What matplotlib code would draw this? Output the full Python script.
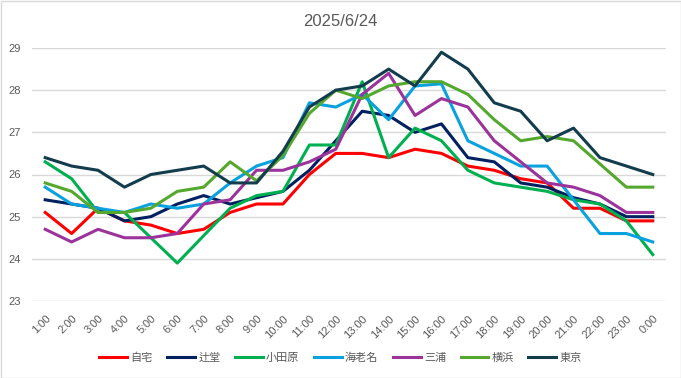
import matplotlib
matplotlib.use("Agg")
import matplotlib.pyplot as plt
from matplotlib.patches import Rectangle

plt.rcParams['font.family'] = ['Liberation Sans', 'Noto Sans CJK JP', 'DejaVu Sans']

hours = ["1:00", "2:00", "3:00", "4:00", "5:00", "6:00", "7:00", "8:00", "9:00", "10:00",
         "11:00", "12:00", "13:00", "14:00", "15:00", "16:00", "17:00", "18:00", "19:00",
         "20:00", "21:00", "22:00", "23:00", "0:00"]

jitaku = [25.1, 24.6, 25.2, 24.9, 24.8, 24.6, 24.7, 25.1, 25.3, 25.3, 26.0, 26.5, 26.5, 26.4,
          26.6, 26.5, 26.2, 26.1, 25.9, 25.8, 25.2, 25.2, 24.9, 24.9]
tsujido = [25.4, 25.3, 25.2, 24.9, 25.0, 25.3, 25.5, 25.3, 25.45, 25.6, 26.1, 26.8, 27.5, 27.4,
           27.0, 27.2, 26.4, 26.3, 25.8, 25.7, 25.45, 25.3, 25.0, 25.0]
odawara = [26.3, 25.9, 25.1, 25.1, 24.5, 23.9, 24.55, 25.2, 25.5, 25.6, 26.7, 26.7, 28.2, 26.4,
           27.1, 26.8, 26.1, 25.8, 25.7, 25.6, 25.4, 25.3, 24.9, 24.1]
ebina = [25.7, 25.3, 25.2, 25.1, 25.3, 25.2, 25.3, 25.8, 26.2, 26.4, 27.7, 27.6, 27.9, 27.3,
         28.1, 28.15, 26.8, 26.5, 26.2, 26.2, 25.4, 24.6, 24.6, 24.4]
miura = [24.7, 24.4, 24.7, 24.5, 24.5, 24.6, 25.3, 25.4, 26.1, 26.1, 26.3, 26.6, 27.9, 28.4,
         27.4, 27.8, 27.6, 26.8, 26.3, 25.8, 25.7, 25.5, 25.1, 25.1]
yokohama = [25.8, 25.6, 25.1, 25.1, 25.2, 25.6, 25.7, 26.3, 25.85, 26.45, 27.45, 28.0, 27.8, 28.1,
            28.2, 28.2, 27.9, 27.3, 26.8, 26.9, 26.8, 26.25, 25.7, 25.7]
tokyo = [26.4, 26.2, 26.1, 25.7, 26.0, 26.1, 26.2, 25.8, 25.8, 26.55, 27.6, 28.0, 28.1, 28.5,
         28.1, 28.9, 28.5, 27.7, 27.5, 26.8, 27.1, 26.4, 26.2, 26.0]

names = ["自宅", "辻堂", "小田原", "海老名", "三浦", "横浜", "東京"]
series = [jitaku, tsujido, odawara, ebina, miura, yokohama, tokyo]
colors = ["#FF0000", "#002060", "#00B050", "#0AA2DE", "#9B339B", "#54A82E", "#133D4C"]

yticks = [23, 24, 25, 26, 27, 28, 29]

fig = plt.figure(figsize=(6.81, 3.78), dpi=100)
ax = fig.add_axes([32/681, 1-301/378, (666-32)/681, (301-48)/378])

x = list(range(len(hours)))
for name, vals, c in zip(names, series, colors):
    ax.plot(x, vals, color=c, lw=2.2, label=name, solid_joinstyle='round')

ax.set_xlim(-0.5, len(hours)-0.5)
ax.set_ylim(23, 29)
ax.set_yticks(yticks)
ax.set_yticklabels([str(v) for v in yticks])
ax.set_xticks(x)
ax.set_xticklabels(hours, rotation=45, ha='right', rotation_mode='anchor')
ax.grid(axis='y', color='#D9D9D9', lw=1)
ax.set_axisbelow(True)
for s in ax.spines.values():
    s.set_visible(False)
ax.tick_params(axis='both', length=0, labelsize=8, colors='#595959')
ax.tick_params(axis='y', pad=8)
ax.tick_params(axis='x', pad=9)
for lbl in ax.get_xticklabels():
    lbl.set_x(lbl.get_position()[0])

fig.text(0.5, 1-22/378, "2025/6/24", ha='center', va='center', fontsize=12, color='#595959')

fig.legend(loc='center', bbox_to_anchor=(0.5, 1-358/378), ncol=7, frameon=False,
           fontsize=8, labelcolor='#595959', handlelength=2.5, handletextpad=0.3,
           columnspacing=1.3)

fig.patches.append(Rectangle((0.5/681, 0.5/378), 1-1/681, 1-1/378, transform=fig.transFigure,
                             fill=False, edgecolor='#D9D9D9', lw=1))

fig.savefig("out.png", dpi=100)
